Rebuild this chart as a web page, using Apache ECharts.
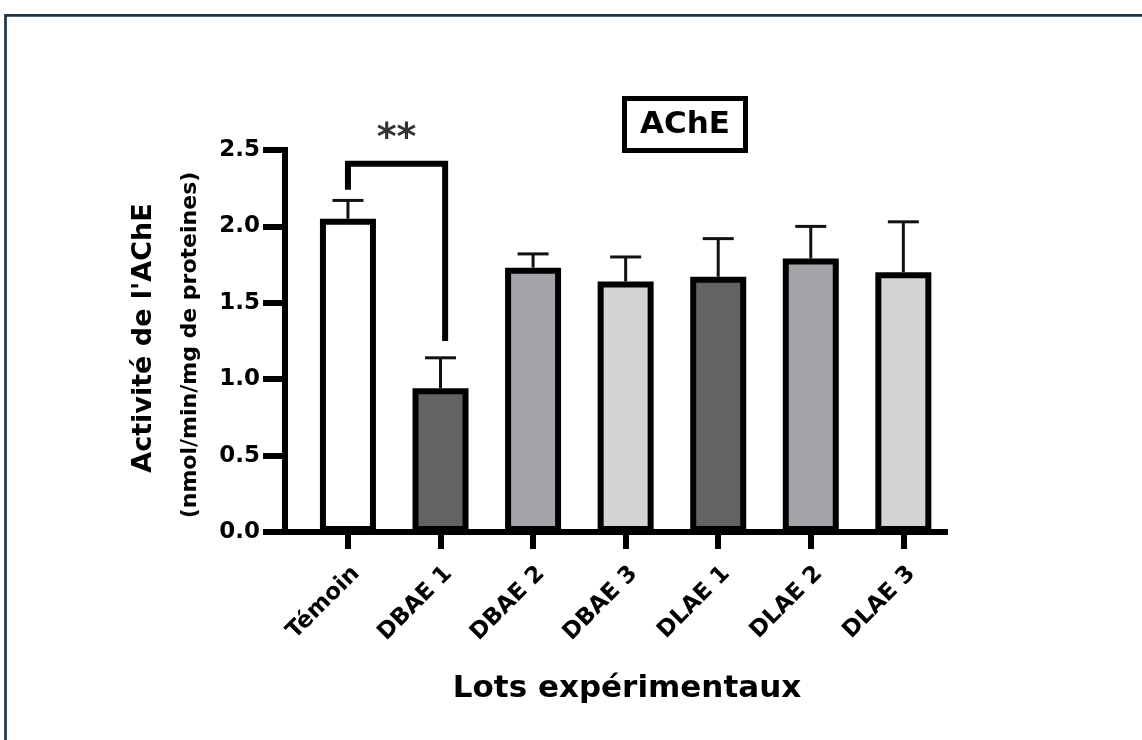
<!DOCTYPE html>
<html>
<head>
<meta charset="utf-8">
<script src="https://cdn.jsdelivr.net/npm/echarts@6/dist/echarts.min.js"></script>
<style>
  html, body { margin: 0; padding: 0; background: #fff; }
  #chart { width: 1142px; height: 740px; }
</style>
</head>
<body>
<div id="chart"></div>
<script>
// Experimental groups and AChE activity (mean, SD)
const categories = ['Témoin', 'DBAE 1', 'DBAE 2', 'DBAE 3', 'DLAE 1', 'DLAE 2', 'DLAE 3'];
const means = [2.05, 0.94, 1.73, 1.64, 1.67, 1.79, 1.70];
const sds = [0.12, 0.20, 0.09, 0.16, 0.25, 0.21, 0.33];
const fills = ['#ffffff', '#636363', '#a4a3a8', '#d4d4d4', '#636363', '#a4a3a8', '#d4d4d4'];

// Significance bracket between Témoin and DBAE 1
const bracket = [[0, 2.24], [0, 2.41], [1.05, 2.41], [1.05, 1.25]];
const significance = '**';

const FONT = '"DejaVu Sans", sans-serif';
const positions = categories.map((_, i) => i);

const chart = echarts.init(document.getElementById('chart'), null, { renderer: 'canvas' });

const option = {
  backgroundColor: '#ffffff',
  animation: false,
  grid: { left: 285, right: 197, top: 150, bottom: 208, outerBoundsMode: 'none' },
  xAxis: {
    type: 'value',
    min: -0.68,
    max: 6.45,
    splitLine: { show: false },
    axisLine: { show: true, onZero: false, lineStyle: { color: '#000', width: 6, cap: 'square' } },
    axisTick: { show: true, customValues: positions, length: 17, lineStyle: { color: '#000', width: 6 } },
    axisLabel: {
      show: true,
      customValues: positions,
      formatter: v => categories[Math.round(v)],
      rotate: 45,
      align: 'right',
      verticalAlign: 'top',
      margin: 30,
      color: '#000',
      fontFamily: FONT,
      fontWeight: 'bold',
      fontSize: 23
    }
  },
  yAxis: {
    type: 'value',
    min: 0,
    max: 2.5,
    interval: 0.5,
    splitLine: { show: false },
    axisLine: { show: true, onZero: false, lineStyle: { color: '#000', width: 6, cap: 'square' } },
    axisTick: { show: true, length: 22, lineStyle: { color: '#000', width: 6 } },
    axisLabel: {
      margin: 25,
      formatter: v => v.toFixed(1),
      color: '#000',
      fontFamily: FONT,
      fontWeight: 'bold',
      fontSize: 23
    }
  },
  series: [
    {
      type: 'bar',
      barWidth: 56,
      z: 2,
      data: categories.map((c, i) => ({
        value: [i, means[i]],
        itemStyle: { color: fills[i], borderColor: '#000', borderWidth: 6 }
      }))
    },
    {
      // upper SD error bars
      type: 'custom',
      z: 3,
      data: categories.map((c, i) => [i, means[i], means[i] + sds[i]]),
      renderItem: (params, api) => {
        const base = api.coord([api.value(0), api.value(1)]);
        const top = api.coord([api.value(0), api.value(2)]);
        const half = 15.5;
        const style = { stroke: '#111', lineWidth: 3 };
        return {
          type: 'group',
          children: [
            { type: 'line', shape: { x1: base[0], y1: base[1], x2: top[0], y2: top[1] }, style },
            { type: 'line', shape: { x1: top[0] - half, y1: top[1], x2: top[0] + half, y2: top[1] }, style }
          ]
        };
      }
    },
    {
      type: 'line',
      z: 4,
      data: bracket,
      symbol: 'none',
      clip: false,
      lineStyle: { color: '#000', width: 6, join: 'miter', cap: 'butt' }
    },
    {
      type: 'scatter',
      z: 4,
      symbolSize: 0,
      clip: false,
      data: [[(bracket[1][0] + bracket[2][0]) / 2, bracket[1][1]]],
      label: {
        show: true,
        position: 'top',
        distance: 6,
        formatter: significance,
        color: '#000',
        textBorderWidth: 0,
        fontFamily: FONT,
        fontWeight: 'bold',
        fontSize: 38
      }
    }
  ],
  graphic: [
    {
      type: 'rect',
      silent: true,
      shape: { x: 5.5, y: 15.3, width: 1300, height: 900 },
      style: { fill: 'none', stroke: '#1c3545', lineWidth: 2.7 }
    },
    {
      type: 'rect',
      shape: { x: 624.5, y: 98.5, width: 121, height: 52 },
      style: { fill: '#fff', stroke: '#000', lineWidth: 5 }
    },
    {
      type: 'text',
      x: 685, y: 124.5,
      style: {
        text: 'AChE', fill: '#000', font: 'bold 31px ' + FONT,
        textAlign: 'center', textVerticalAlign: 'middle'
      }
    },
    {
      type: 'text',
      x: 143.5, y: 338,
      rotation: Math.PI / 2,
      style: {
        text: "Activité de l'AChE", fill: '#000', font: 'bold 27px ' + FONT,
        textAlign: 'center', textVerticalAlign: 'middle'
      }
    },
    {
      type: 'text',
      x: 190, y: 345,
      rotation: Math.PI / 2,
      style: {
        text: '(nmol/min/mg de proteines)', fill: '#000', font: 'bold 22px ' + FONT,
        textAlign: 'center', textVerticalAlign: 'middle'
      }
    },
    {
      type: 'text',
      x: 627, y: 689,
      style: {
        text: 'Lots expérimentaux', fill: '#000', font: 'bold 31px ' + FONT,
        textAlign: 'center', textVerticalAlign: 'middle'
      }
    }
  ]
};

chart.setOption(option);
</script>
</body>
</html>
